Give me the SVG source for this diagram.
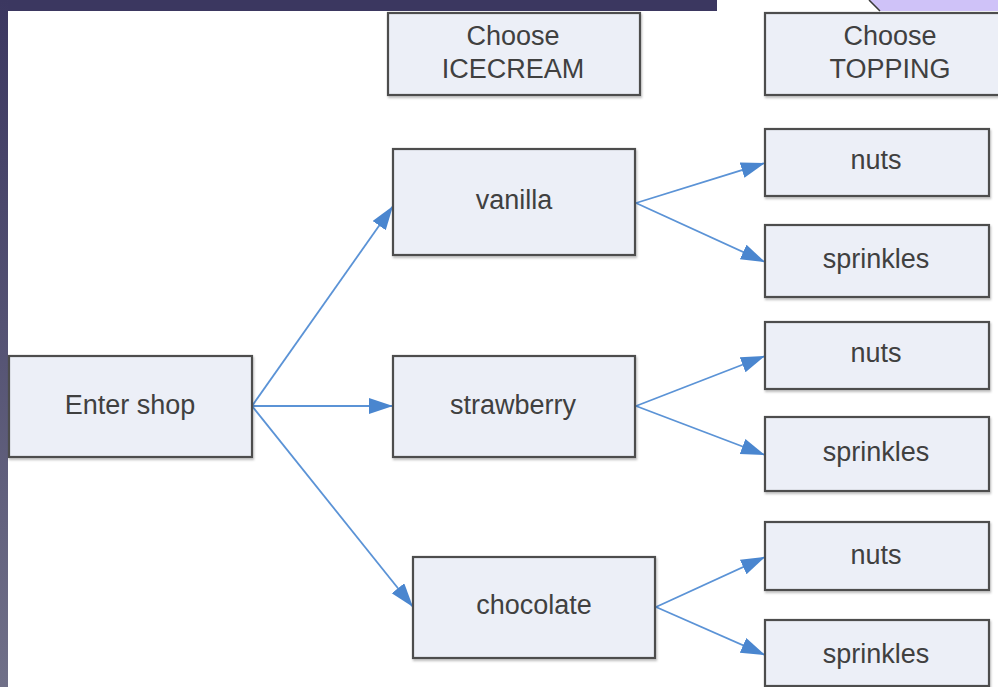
<svg xmlns="http://www.w3.org/2000/svg" width="998" height="687" viewBox="0 0 998 687">
  <defs>
    <linearGradient id="sideGrad" x1="0" y1="0" x2="0" y2="1">
      <stop offset="0" stop-color="#3b3760"/>
      <stop offset="1" stop-color="#707088"/>
    </linearGradient>
    <marker id="arrow" markerUnits="userSpaceOnUse" markerWidth="26" markerHeight="20" refX="24" refY="8" orient="auto">
      <path d="M0,0 L24,8 L0,16 Z" fill="#4a86cf"/>
    </marker>
    <filter id="shadow" x="-5%" y="-5%" width="115%" height="125%">
      <feDropShadow dx="1" dy="2" stdDeviation="1.2" flood-color="#000" flood-opacity="0.25"/>
    </filter>
  </defs>
  <style>
    .box { fill: #eceff7; stroke: #4d4d4d; stroke-width: 2.2; filter: url(#shadow); }
    .lbl { font-family: "Liberation Sans", Arial, sans-serif; font-size: 27px; fill: #404040; text-anchor: middle; }
    .conn { stroke: #5b93d6; stroke-width: 1.8; fill: none; marker-end: url(#arrow); }
  </style>

  <rect x="0" y="0" width="998" height="687" fill="#ffffff"/>
  <!-- background frame -->
  <rect x="0" y="0" width="717" height="11" fill="#3b3760"/>
  <rect x="0" y="0" width="8" height="687" fill="url(#sideGrad)"/>
  <polygon points="869,0 880,11 998,11 998,0" fill="#cfc2f8"/>
  <line x1="869" y1="0" x2="880" y2="11" stroke="#3a3a3a" stroke-width="1.5"/>

  <g id="connectors">
    <line class="conn" x1="252" y1="406" x2="393" y2="206"/>
    <line class="conn" x1="252" y1="406" x2="393" y2="406"/>
    <line class="conn" x1="252" y1="406" x2="413" y2="607"/>
    <line class="conn" x1="636" y1="203" x2="765" y2="163"/>
    <line class="conn" x1="636" y1="203" x2="765" y2="262"/>
    <line class="conn" x1="636" y1="406" x2="765" y2="356"/>
    <line class="conn" x1="636" y1="406" x2="765" y2="455"/>
    <line class="conn" x1="656" y1="607" x2="765" y2="557"/>
    <line class="conn" x1="656" y1="607" x2="765" y2="655"/>
  </g>

  <g id="hdr-icecream">
    <rect class="box" x="388" y="13" width="252" height="82"/>
    <text class="lbl" x="513" y="45">Choose</text>
    <text class="lbl" x="513" y="78">ICECREAM</text>
  </g>
  <g id="hdr-topping">
    <rect class="box" x="765" y="13" width="260" height="82"/>
    <text class="lbl" x="890" y="45">Choose</text>
    <text class="lbl" x="890" y="78">TOPPING</text>
  </g>

  <g id="enter-shop">
    <rect class="box" x="9" y="356" width="243" height="101"/>
    <text class="lbl" x="130" y="414">Enter shop</text>
  </g>

  <g id="vanilla">
    <rect class="box" x="393" y="149" width="242" height="106"/>
    <text class="lbl" x="514" y="209">vanilla</text>
  </g>
  <g id="strawberry">
    <rect class="box" x="393" y="356" width="242" height="101"/>
    <text class="lbl" x="513" y="414">strawberry</text>
  </g>
  <g id="chocolate">
    <rect class="box" x="413" y="557" width="242" height="101"/>
    <text class="lbl" x="534" y="614">chocolate</text>
  </g>

  <g id="vanilla-nuts">
    <rect class="box" x="765" y="129" width="224" height="67"/>
    <text class="lbl" x="876" y="169">nuts</text>
  </g>
  <g id="vanilla-sprinkles">
    <rect class="box" x="765" y="225" width="224" height="72"/>
    <text class="lbl" x="876" y="268">sprinkles</text>
  </g>
  <g id="strawberry-nuts">
    <rect class="box" x="765" y="322" width="224" height="67"/>
    <text class="lbl" x="876" y="362">nuts</text>
  </g>
  <g id="strawberry-sprinkles">
    <rect class="box" x="765" y="417" width="224" height="74"/>
    <text class="lbl" x="876" y="461">sprinkles</text>
  </g>
  <g id="chocolate-nuts">
    <rect class="box" x="765" y="522" width="224" height="68"/>
    <text class="lbl" x="876" y="564">nuts</text>
  </g>
  <g id="chocolate-sprinkles">
    <rect class="box" x="765" y="620" width="224" height="66"/>
    <text class="lbl" x="876" y="663">sprinkles</text>
  </g>
</svg>
